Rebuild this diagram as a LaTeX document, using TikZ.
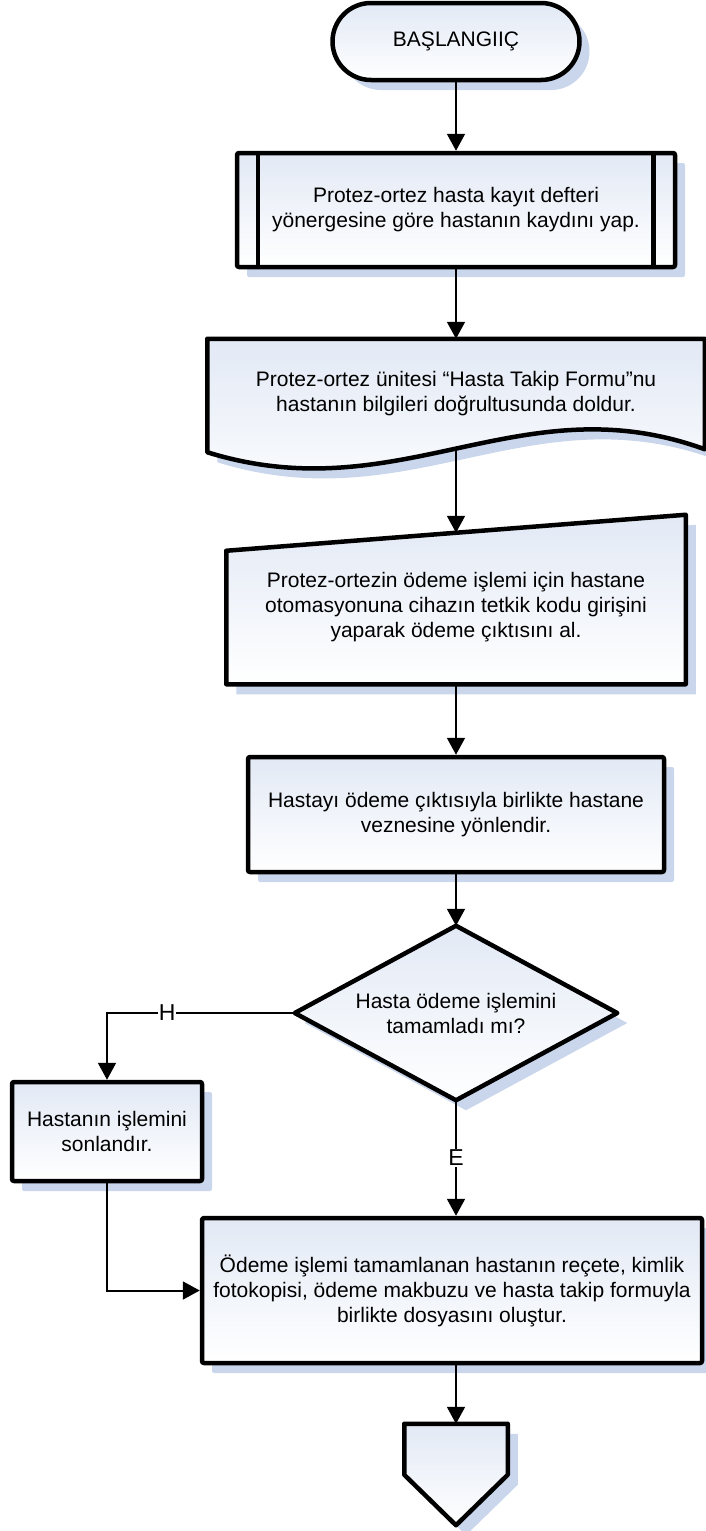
\documentclass[tikz,border=0pt]{standalone}
\usepackage{fontspec}
\setmainfont{Liberation Sans}
\usetikzlibrary{arrows.meta,shadows,calc,backgrounds}
\definecolor{shadowc}{RGB}{201,214,236}
\definecolor{filltop}{RGB}{226,233,245}
\begin{document}
\begin{tikzpicture}[x=1pt,y=-1pt,
  txt/.style={font=\fontsize{21}{25}\selectfont, align=center},
  shp/.style={draw=black, line width=4.5pt, line join=round, top color=filltop, bottom color=white,
     drop shadow={shadow xshift=10pt, shadow yshift=-10pt, fill=shadowc, opacity=1}},
  box/.style={shp, txt, rectangle, rounded corners=2pt, inner sep=0pt},
  ghost/.style={txt, rectangle, inner sep=0pt, outer sep=2.25pt},
  conn/.style={line width=2pt, -{Triangle[length=17pt,width=18pt]}},
  lbl/.style={font=\fontsize{23}{25}\selectfont, fill=white, inner sep=1pt},
]
\useasboundingbox (0,0) rectangle (705,1531);

% terminal
\node[box, rounded corners=38.5pt, minimum width=247pt, minimum height=77pt] (start) at (456,41.5) {BAŞLANGIIÇ};

% predefined process
\node[box, minimum width=438pt, minimum height=114pt] (reg) at (456,210)
  {Protez-ortez hasta kayıt defteri\\yönergesine göre hastanın kaydını yap.};
\draw[line width=4.5pt] ($(reg.north west)+(23,0)$) -- ($(reg.south west)+(23,0)$);
\draw[line width=4.5pt] ($(reg.north east)+(-24,0)$) -- ($(reg.south east)+(-24,0)$);

% document
\node[ghost, minimum width=493pt, minimum height=106pt] (doc) at (456,394)
  {Protez-ortez ünitesi “Hasta Takip Formu”nu\\hastanın bilgileri doğrultusunda doldur.};
\begin{scope}[on background layer]
\path[shp] (doc.north west) -- (doc.north east) -- (doc.south east)
  .. controls (520,382) and (400,512) .. ($(doc.south west)+(0,3)$) -- cycle;
\end{scope}

% manual input
\node[ghost, minimum width=455pt, minimum height=165pt] (man) at (456,599.5) {};
\node[txt] (mantext) at (456,607)
  {Protez-ortezin ödeme işlemi için hastane\\otomasyonuna cihazın tetkik kodu girişini\\yaparak ödeme çıktısını al.};
\coordinate (manin) at ($(man.north)+(0,18)$);
\begin{scope}[on background layer]
\path[shp] ($(man.north west)+(0,36)$) -- (man.north east) -- (man.south east) -- (man.south west) -- cycle;
\end{scope}

% process
\node[box, minimum width=416pt, minimum height=115pt] (pay) at (456,814.5)
  {Hastayı ödeme çıktısıyla birlikte hastane\\veznesine yönlendir.};

% decision
\node[ghost, minimum width=318pt, minimum height=170pt] (dec) at (456,1013)
  {Hasta ödeme işlemini\\tamamladı mı?};
\begin{scope}[on background layer]
\path[shp] (dec.north) -- (dec.east) -- (dec.south) -- (dec.west) -- cycle;
\end{scope}

% end process
\node[box, minimum width=190pt, minimum height=99pt] (end1) at (107,1131.5)
  {Hastanın işlemini\\sonlandır.};

% final process
\node[box, minimum width=500pt, minimum height=145pt] (file) at (452,1290.5)
  {Ödeme işlemi tamamlanan hastanın reçete, kimlik\\fotokopisi, ödeme makbuzu ve hasta takip formuyla\\birlikte dosyasını oluştur.};

% off-page connector
\node[ghost, minimum width=99pt, minimum height=97pt] (off) at (456,1474.5) {};
\begin{scope}[on background layer]
\path[shp] (off.north west) -- (off.north east) -- ($(off.north east)+(0,51)$) -- (off.south)
  -- ($(off.north west)+(0,51)$) -- cycle;
\end{scope}

% connectors
\draw[conn] (start.south) -- (reg.north);
\draw[conn] (reg.south) -- (doc.north);
\draw[conn] (doc.south) -- (manin);
\draw[conn] (man.south) -- (pay.north);
\draw[conn] (pay.south) -- (dec.north);
\draw[conn] (dec.west) -| node[lbl, pos=0.34] (lblH) {H} (end1.north);
\draw[conn] (dec.south) -- node[lbl] (lblE) {E} (dec.south |- file.north);
\draw[conn] (end1.south) |- (file.west);
\draw[conn] (file.south -| off.north) -- (off.north);
\end{tikzpicture}
\end{document}
